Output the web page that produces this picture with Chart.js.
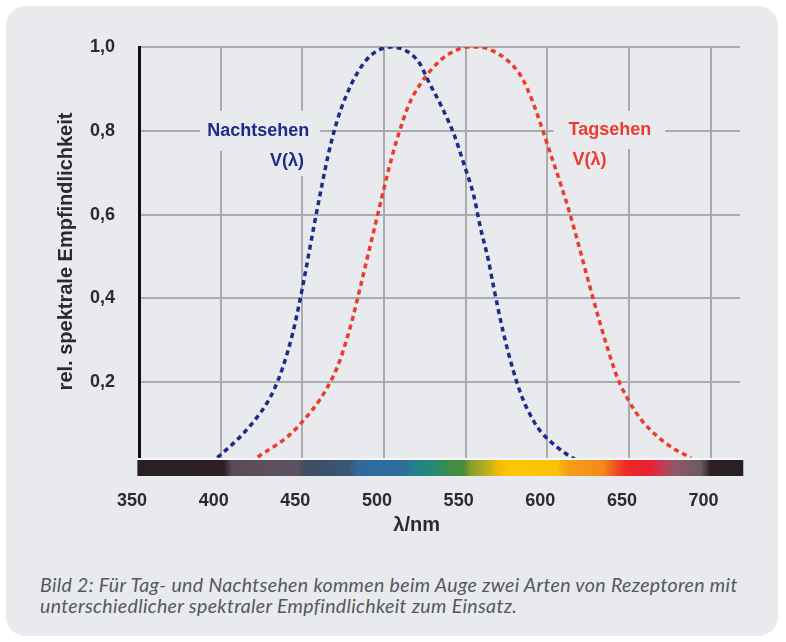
<!DOCTYPE html>
<html lang="de">
<head>
<meta charset="utf-8">
<script src="https://cdn.jsdelivr.net/npm/chart.js@4"></script>
<style>
  body { margin: 0; background: #fff; width: 786px; height: 642px; overflow: hidden; }
  #card { position: absolute; left: 6px; top: 6px; width: 772px; height: 630px; border-radius: 20px; background: #e8eaee; }
  #chart { position: absolute; left: 0; top: 0; }
  #caption { position: absolute; left: 40px; top: 574px; margin: 0; font: italic 19.5px Lato, sans-serif; letter-spacing: 0.35px; line-height: 21px; color: #54585e; white-space: nowrap; }
</style>
</head>
<body>
<div id="card"></div>
<canvas id="chart" width="786" height="560"></canvas>
<p id="caption">Bild 2: Für Tag- und Nachtsehen kommen beim Auge zwei Arten von Rezeptoren mit<br>unterschiedlicher spektraler Empfindlichkeit zum Einsatz.</p>
<script>
// ─────────────────────────────────────────
// DATA
// ─────────────────────────────────────────

// scotopic curve (Nachtsehen)
const nightNm = [398, 412, 422, 428, 433, 438, 444, 448, 452, 457, 462, 466, 471, 477, 484, 492, 504,
                 514, 522, 527, 535, 543, 549, 555, 559, 564, 567, 573, 579, 585, 592, 596, 606, 616, 620];
const nightV  = [0.02, 0.07, 0.115, 0.148, 0.185, 0.235, 0.315, 0.385, 0.465, 0.57, 0.67, 0.745, 0.82, 0.885, 0.94, 0.98, 1.00,
                 0.99, 0.96, 0.92, 0.86, 0.79, 0.72, 0.645, 0.57, 0.49, 0.43, 0.32, 0.23, 0.16, 0.105, 0.082, 0.045, 0.018, 0.01];

// photopic curve (Tagsehen)
const dayNm = [418, 428, 441, 451, 461, 469, 473, 477, 481, 486, 490, 494, 498, 503, 508, 515, 522, 535, 543, 551,
               559, 567, 575, 584, 591, 596, 602, 608, 614, 619, 627, 632, 637, 643, 650, 657, 667, 678, 688];
const dayV  = [0.01, 0.035, 0.07, 0.11, 0.16, 0.215, 0.252, 0.30, 0.355, 0.435, 0.50, 0.565, 0.63, 0.71, 0.78, 0.86, 0.91, 0.97, 0.99, 1.00,
               1.00, 0.99, 0.97, 0.93, 0.87, 0.815, 0.745, 0.675, 0.60, 0.53, 0.415, 0.345, 0.28, 0.21, 0.155, 0.113, 0.072, 0.04, 0.02];

const xTicks = [350, 400, 450, 500, 550, 600, 650, 700];
const yTicks = [0.2, 0.4, 0.6, 0.8, 1.0];

// colour strip under the x axis
const spectrumNm = [349, 402, 407, 447, 452, 478, 484, 512, 520, 533, 540, 549, 553, 563, 570, 578, 606, 612,
                    634, 642, 648, 662, 670, 678, 694, 700, 720];
const spectrumColors = ["#2a1f22", "#2c2024", "#5b4b55", "#5e5262", "#3f4c5f", "#3b5674", "#2f6a9c", "#2f6c9c",
                        "#1f8488", "#2a8a6a", "#3f8b4a", "#4a8d3c", "#86a02c", "#b9ae22", "#f2bc06", "#fcc800",
                        "#f8c20a", "#f5a018", "#f38a18", "#f05020", "#ee2a24", "#e82030", "#c83852", "#8e5864",
                        "#6c5a62", "#2c2024", "#2a1f22"];

const BG = "#e8eaee";
const TEXT = "#2b2b2b";
const NIGHT = "#1d2b8a";
const DAY = "#ee3b2c";
const FONT = "'Liberation Sans', Arial, sans-serif";

// ─────────────────────────────────────────
// EXTRA DRAWING: labels, axis titles, spectrum
// ─────────────────────────────────────────

const decorations = {
  id: "decorations",
  beforeDatasetsDraw(chart) {
    const { ctx, scales: { x, y } } = chart;
    ctx.save();
    ctx.font = "bold 18px " + FONT;
    ctx.textBaseline = "middle";

    // curve names sit on a patch of background that cuts the grid
    const tags = [
      { text: "Nachtsehen", nm: 423, v: 0.80, align: "center", color: NIGHT, padL: 7, padR: 11, h: 40 },
      { text: "V(λ)",       nm: 451, v: 0.728, align: "right", color: NIGHT, padL: 6, padR: 6, h: 30 },
      { text: "Tagsehen",   nm: 613, v: 0.802, align: "left",  color: DAY,   padL: 15, padR: 14, h: 38 },
      { text: "V(λ)",       nm: 615.4, v: 0.73, align: "left", color: DAY,   padL: 6, padR: 6, h: 30 }
    ];
    tags.forEach(t => {
      const px = x.getPixelForValue(t.nm);
      const py = y.getPixelForValue(t.v);
      const w = ctx.measureText(t.text).width;
      const left = t.align === "center" ? px - w / 2 : t.align === "right" ? px - w : px;
      ctx.fillStyle = BG;
      ctx.fillRect(left - t.padL, py - t.h / 2, w + t.padL + t.padR, t.h);
    });
    tags.forEach(t => {
      ctx.fillStyle = t.color;
      ctx.textAlign = t.align;
      ctx.fillText(t.text, x.getPixelForValue(t.nm), y.getPixelForValue(t.v));
    });
    ctx.restore();
  },
  afterDatasetsDraw(chart) {
    const { ctx, scales: { x, y } } = chart;
    ctx.save();
    const x0 = x.getPixelForValue(spectrumNm[0]);
    const x1 = x.getPixelForValue(spectrumNm[spectrumNm.length - 1]);
    const base = y.getPixelForValue(0);
    const grad = ctx.createLinearGradient(x0, 0, x1, 0);
    spectrumNm.forEach((nm, i) => {
      grad.addColorStop((x.getPixelForValue(nm) - x0) / (x1 - x0), spectrumColors[i]);
    });
    ctx.fillStyle = "#f6f7f9";
    ctx.fillRect(x0, base - 8, x1 - x0, 2);
    ctx.fillStyle = grad;
    ctx.fillRect(x0, base - 6, x1 - x0, 16);

    // axis titles
    ctx.fillStyle = TEXT;
    ctx.font = "bold 20px " + FONT;
    ctx.textAlign = "center";
    ctx.textBaseline = "alphabetic";
    ctx.fillText("λ/nm", x.getPixelForValue(520), 531);

    ctx.translate(72, y.getPixelForValue(0.512));
    ctx.rotate(-Math.PI / 2);
    ctx.fillText("rel. spektrale Empfindlichkeit", 0, 0);
    ctx.restore();
  }
};

// ─────────────────────────────────────────
// CHART
// ─────────────────────────────────────────

const gridColor = "#a9abaf";

new Chart(document.getElementById("chart"), {
  type: "line",
  data: {
    datasets: [
      {
        label: "Nachtsehen V(λ)",
        data: nightNm.map((nm, i) => ({ x: nm, y: nightV[i] })),
        borderColor: NIGHT,
        borderWidth: 3.5,
        borderDash: [5, 4]
      },
      {
        label: "Tagsehen V(λ)",
        data: dayNm.map((nm, i) => ({ x: nm, y: dayV[i] })),
        borderColor: DAY,
        borderWidth: 3.5,
        borderDash: [5, 4]
      }
    ]
  },
  options: {
    responsive: false,
    animation: false,
    layout: { padding: { top: 47, right: 46, left: 0, bottom: 0 } },
    plugins: { legend: { display: false }, tooltip: { enabled: false } },
    elements: {
      point: { radius: 0 },
      line: { cubicInterpolationMode: "monotone", fill: false }
    },
    scales: {
      x: {
        type: "linear",
        min: 350,
        max: 718,
        afterFit: s => { s.height = 94; },
        afterBuildTicks: s => { s.ticks = xTicks.map(v => ({ value: v })); },
        grid: {
          color: c => (c.tick && c.tick.value === 350 ? "rgba(0,0,0,0)" : gridColor),
          lineWidth: 2,
          drawTicks: false
        },
        border: { display: false },
        ticks: {
          padding: 24,
          labelOffset: -7,
          color: TEXT,
          font: { family: FONT, size: 18, weight: "bold" },
          callback: v => String(v)
        }
      },
      y: {
        min: 0,
        max: 1,
        afterFit: s => { s.width = 139; },
        afterBuildTicks: s => { s.ticks = yTicks.map(v => ({ value: v })); },
        grid: { color: gridColor, lineWidth: 2, drawTicks: false },
        border: { color: "#111111", width: 3 },
        ticks: {
          padding: 24,
          color: TEXT,
          font: { family: FONT, size: 18, weight: "bold" },
          callback: v => v.toFixed(1).replace(".", ",")
        }
      }
    }
  },
  plugins: [decorations]
});
</script>
</body>
</html>
